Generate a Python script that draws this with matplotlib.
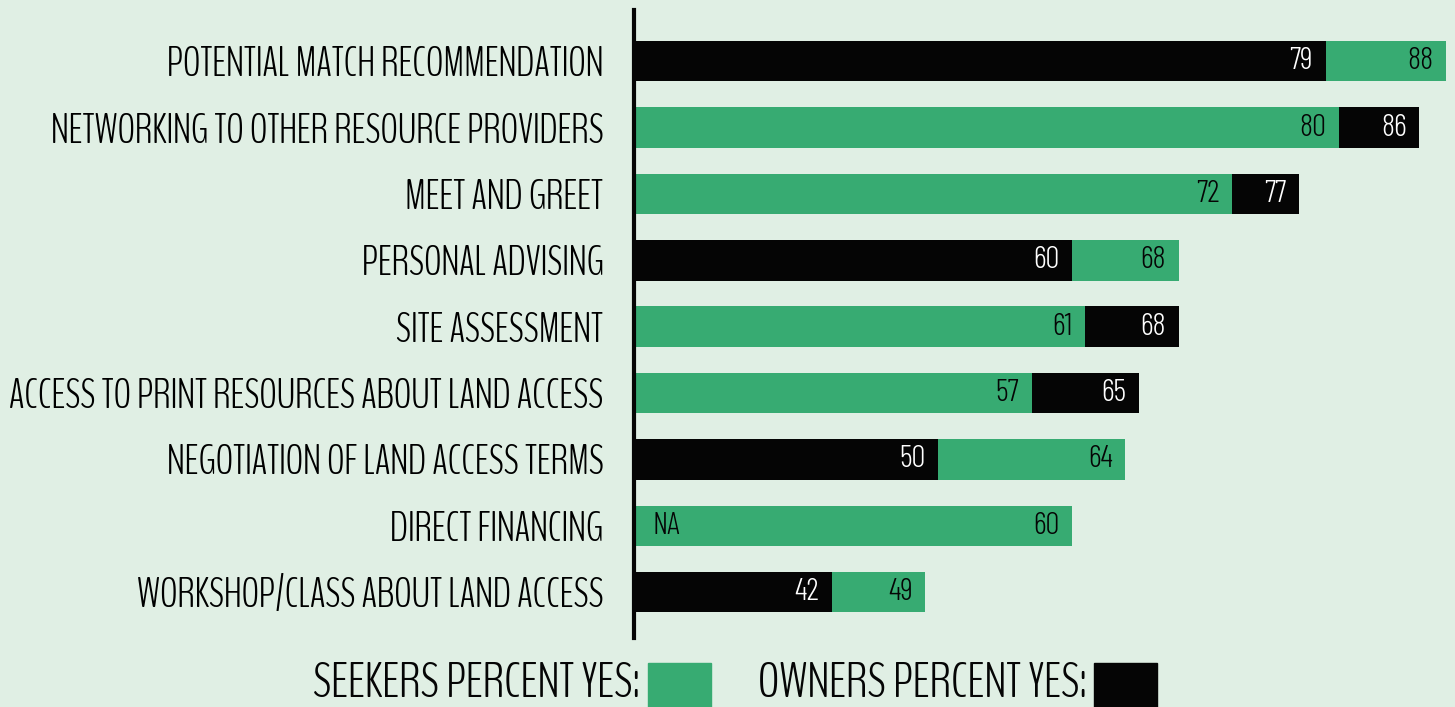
import matplotlib.pyplot as plt
from matplotlib.patches import Rectangle
import numpy as np

CATEGORIES = [
    "POTENTIAL MATCH RECOMMENDATION",
    "NETWORKING TO OTHER RESOURCE PROVIDERS",
    "MEET AND GREET",
    "PERSONAL ADVISING",
    "SITE ASSESSMENT",
    "ACCESS TO PRINT RESOURCES ABOUT LAND ACCESS",
    "NEGOTIATION OF LAND ACCESS TERMS",
    "DIRECT FINANCING",
    "WORKSHOP/CLASS ABOUT LAND ACCESS",
]
SEEKERS = [88, 80, 72, 68, 61, 57, 64, 60, 49]
OWNERS = [79, 86, 77, 60, 68, 65, 50, None, 42]

BG = "#e0efe4"
GREEN = "#37ab72"
BLACK = "#050505"
FONT = ["BenchNine", "DejaVu Sans"]
NUM_FONT = ["Barlow Condensed", "DejaVu Sans"]
XMIN, XMAX = 27.2, 88.7

plt.rcParams["font.family"] = FONT
plt.rcParams["font.weight"] = 300

fig = plt.figure(figsize=(14.55, 7.07), dpi=100, facecolor=BG)
ax = fig.add_axes([634 / 1455, 1 - 638 / 707, 1 - 634 / 1455, 628 / 707])
ax.set_facecolor(BG)

y = np.arange(len(CATEGORIES))
h = 0.61
LBL = 30  # base label size, rescaled below to the reference width

for i, (s, o) in enumerate(zip(SEEKERS, OWNERS)):
    bars = [(s, GREEN, BLACK)]
    if o is not None:
        bars.append((o, BLACK, "white"))
    # larger bar underneath, smaller one on top
    bars.sort(key=lambda b: -b[0])
    for val, col, tcol in bars:
        ax.barh(i, val, height=h, color=col, edgecolor="none")
        ax.annotate(str(val), xy=(val, i), xytext=(-9, 0),
                    textcoords="offset points", ha="right", va="center",
                    color=tcol, family=NUM_FONT, fontsize=22.5)
    if o is None:
        ax.annotate("NA", xy=(XMIN, i), xytext=(13, 0),
                    textcoords="offset points", ha="left", va="center",
                    color=BLACK, family=NUM_FONT, fontsize=22.5)

ax.set_xlim(XMIN, XMAX)
ax.set_ylim(8.69, -0.77)
ax.set_yticks(y)
ax.set_yticklabels(CATEGORIES)
ax.tick_params(axis="y", length=0, pad=22)
ax.set_xticks([])
for side in ["top", "right", "bottom"]:
    ax.spines[side].set_visible(False)
ax.spines["left"].set_linewidth(3)
ax.spines["left"].set_color(BLACK)

# legend along the bottom
leg1 = fig.text(640 / 1455, 1 - 684 / 707, "SEEKERS PERCENT YES:", ha="right",
                va="center", color=BLACK)
fig.patches.append(Rectangle((648 / 1455, 0), 63 / 1455, 44 / 707,
                             transform=fig.transFigure, color=GREEN))
leg2 = fig.text(1087 / 1455, 1 - 684 / 707, "OWNERS PERCENT YES:", ha="right",
                va="center", color=BLACK)
fig.patches.append(Rectangle((1094 / 1455, 0), 63 / 1455, 44 / 707,
                             transform=fig.transFigure, color=BLACK))

# fit the category font so the longest label is as wide as in the reference
for t in ax.get_yticklabels():
    t.set_fontsize(LBL)
fig.canvas.draw()
r = fig.canvas.get_renderer()
w = max(t.get_window_extent(r).width for t in ax.get_yticklabels())
size = LBL * 595 / w
for t in ax.get_yticklabels():
    t.set_fontsize(size)
for t in (leg1, leg2):
    t.set_fontsize(size * 1.22)

fig.savefig("out.png", dpi=100, facecolor=BG)
